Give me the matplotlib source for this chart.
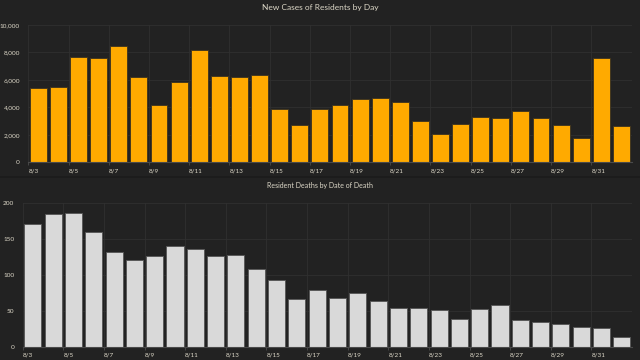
import matplotlib
matplotlib.use("Agg")
import matplotlib.pyplot as plt
from matplotlib.ticker import FuncFormatter, MultipleLocator
import numpy as np

days = ["8/3", "8/4", "8/5", "8/6", "8/7", "8/8", "8/9", "8/10", "8/11", "8/12",
        "8/13", "8/14", "8/15", "8/16", "8/17", "8/18", "8/19", "8/20", "8/21", "8/22",
        "8/23", "8/24", "8/25", "8/26", "8/27", "8/28", "8/29", "8/30", "8/31", "9/1"]
new_cases = [5430, 5480, 7650, 7600, 8450, 6210, 4200, 5830, 8150, 6260,
             6180, 6330, 3880, 2740, 3900, 4200, 4590, 4690, 4370, 3030,
             2060, 2790, 3320, 3230, 3740, 3200, 2720, 1800, 7600, 2620]
deaths = [171, 184, 186, 160, 132, 120, 126, 140, 136, 126,
          128, 108, 93, 66, 79, 67, 74, 64, 54, 54,
          51, 39, 53, 58, 37, 35, 31, 28, 26, 14]

BG = "#222222"
TXT = "#ddd8c8"
GRID = "#303030"

plt.rcParams['font.family'] = ['Lato', 'DejaVu Sans']

fig = plt.figure(figsize=(6.4, 3.6), dpi=100, facecolor=BG)

W, H = 640.0, 360.0
def axes_px(left, right, top, bottom):
    return fig.add_axes([left / W, 1 - bottom / H, (right - left) / W, (bottom - top) / H])

ax1 = axes_px(28.3, 631.5, 25.0, 162.3)
ax2 = axes_px(22.7, 632.0, 202.7, 346.7)

x = np.arange(len(days)) + 0.5

def style(ax, ymax, ystep, fmt):
    ax.set_facecolor(BG)
    ax.set_xlim(0, len(days))
    ax.set_ylim(0, ymax)
    ax.yaxis.set_major_locator(MultipleLocator(ystep))
    ax.yaxis.set_major_formatter(FuncFormatter(fmt))
    ticks = np.arange(0, len(days), 2)
    ax.set_xticks(ticks)
    ax.set_xticklabels([days[i] for i in ticks], ha='left')
    ax.grid(True, color=GRID, linewidth=0.6)
    ax.set_axisbelow(True)
    for s in ['top', 'right', 'left']:
        ax.spines[s].set_visible(False)
    ax.spines['bottom'].set_color('#4a4a4a')
    ax.spines['bottom'].set_linewidth(0.8)
    ax.tick_params(axis='x', colors=TXT, labelsize=4.6, length=2, width=0.5, pad=2.5, color='#555555')
    ax.tick_params(axis='y', colors=TXT, labelsize=4.6, length=0, pad=6)

ax1.bar(x, new_cases, width=0.84, color="#ffaa00", edgecolor="#3b3220", linewidth=0.6, zorder=2)
style(ax1, 10000, 2000, lambda v, p: f"{int(v):,}")
fig.text(0.5, 1 - 7.8 / H, "New Cases of Residents by Day", color=TXT, fontsize=6.0,
         ha='center', va='center')

ax2.bar(x, deaths, width=0.84, color="#d9d9d9", edgecolor="#555555", linewidth=0.6, zorder=2)
style(ax2, 200, 50, lambda v, p: f"{int(v)}")
fig.text(0.5, 1 - 185.5 / H, "Resident Deaths by Date of Death", color=TXT, fontsize=5.0,
         ha='center', va='center')

fig.add_artist(plt.Line2D([0, 1], [1 - 177 / H, 1 - 177 / H], color="#1b1b1b", linewidth=1.2))

fig.savefig("out.png", dpi=100, facecolor=BG)
